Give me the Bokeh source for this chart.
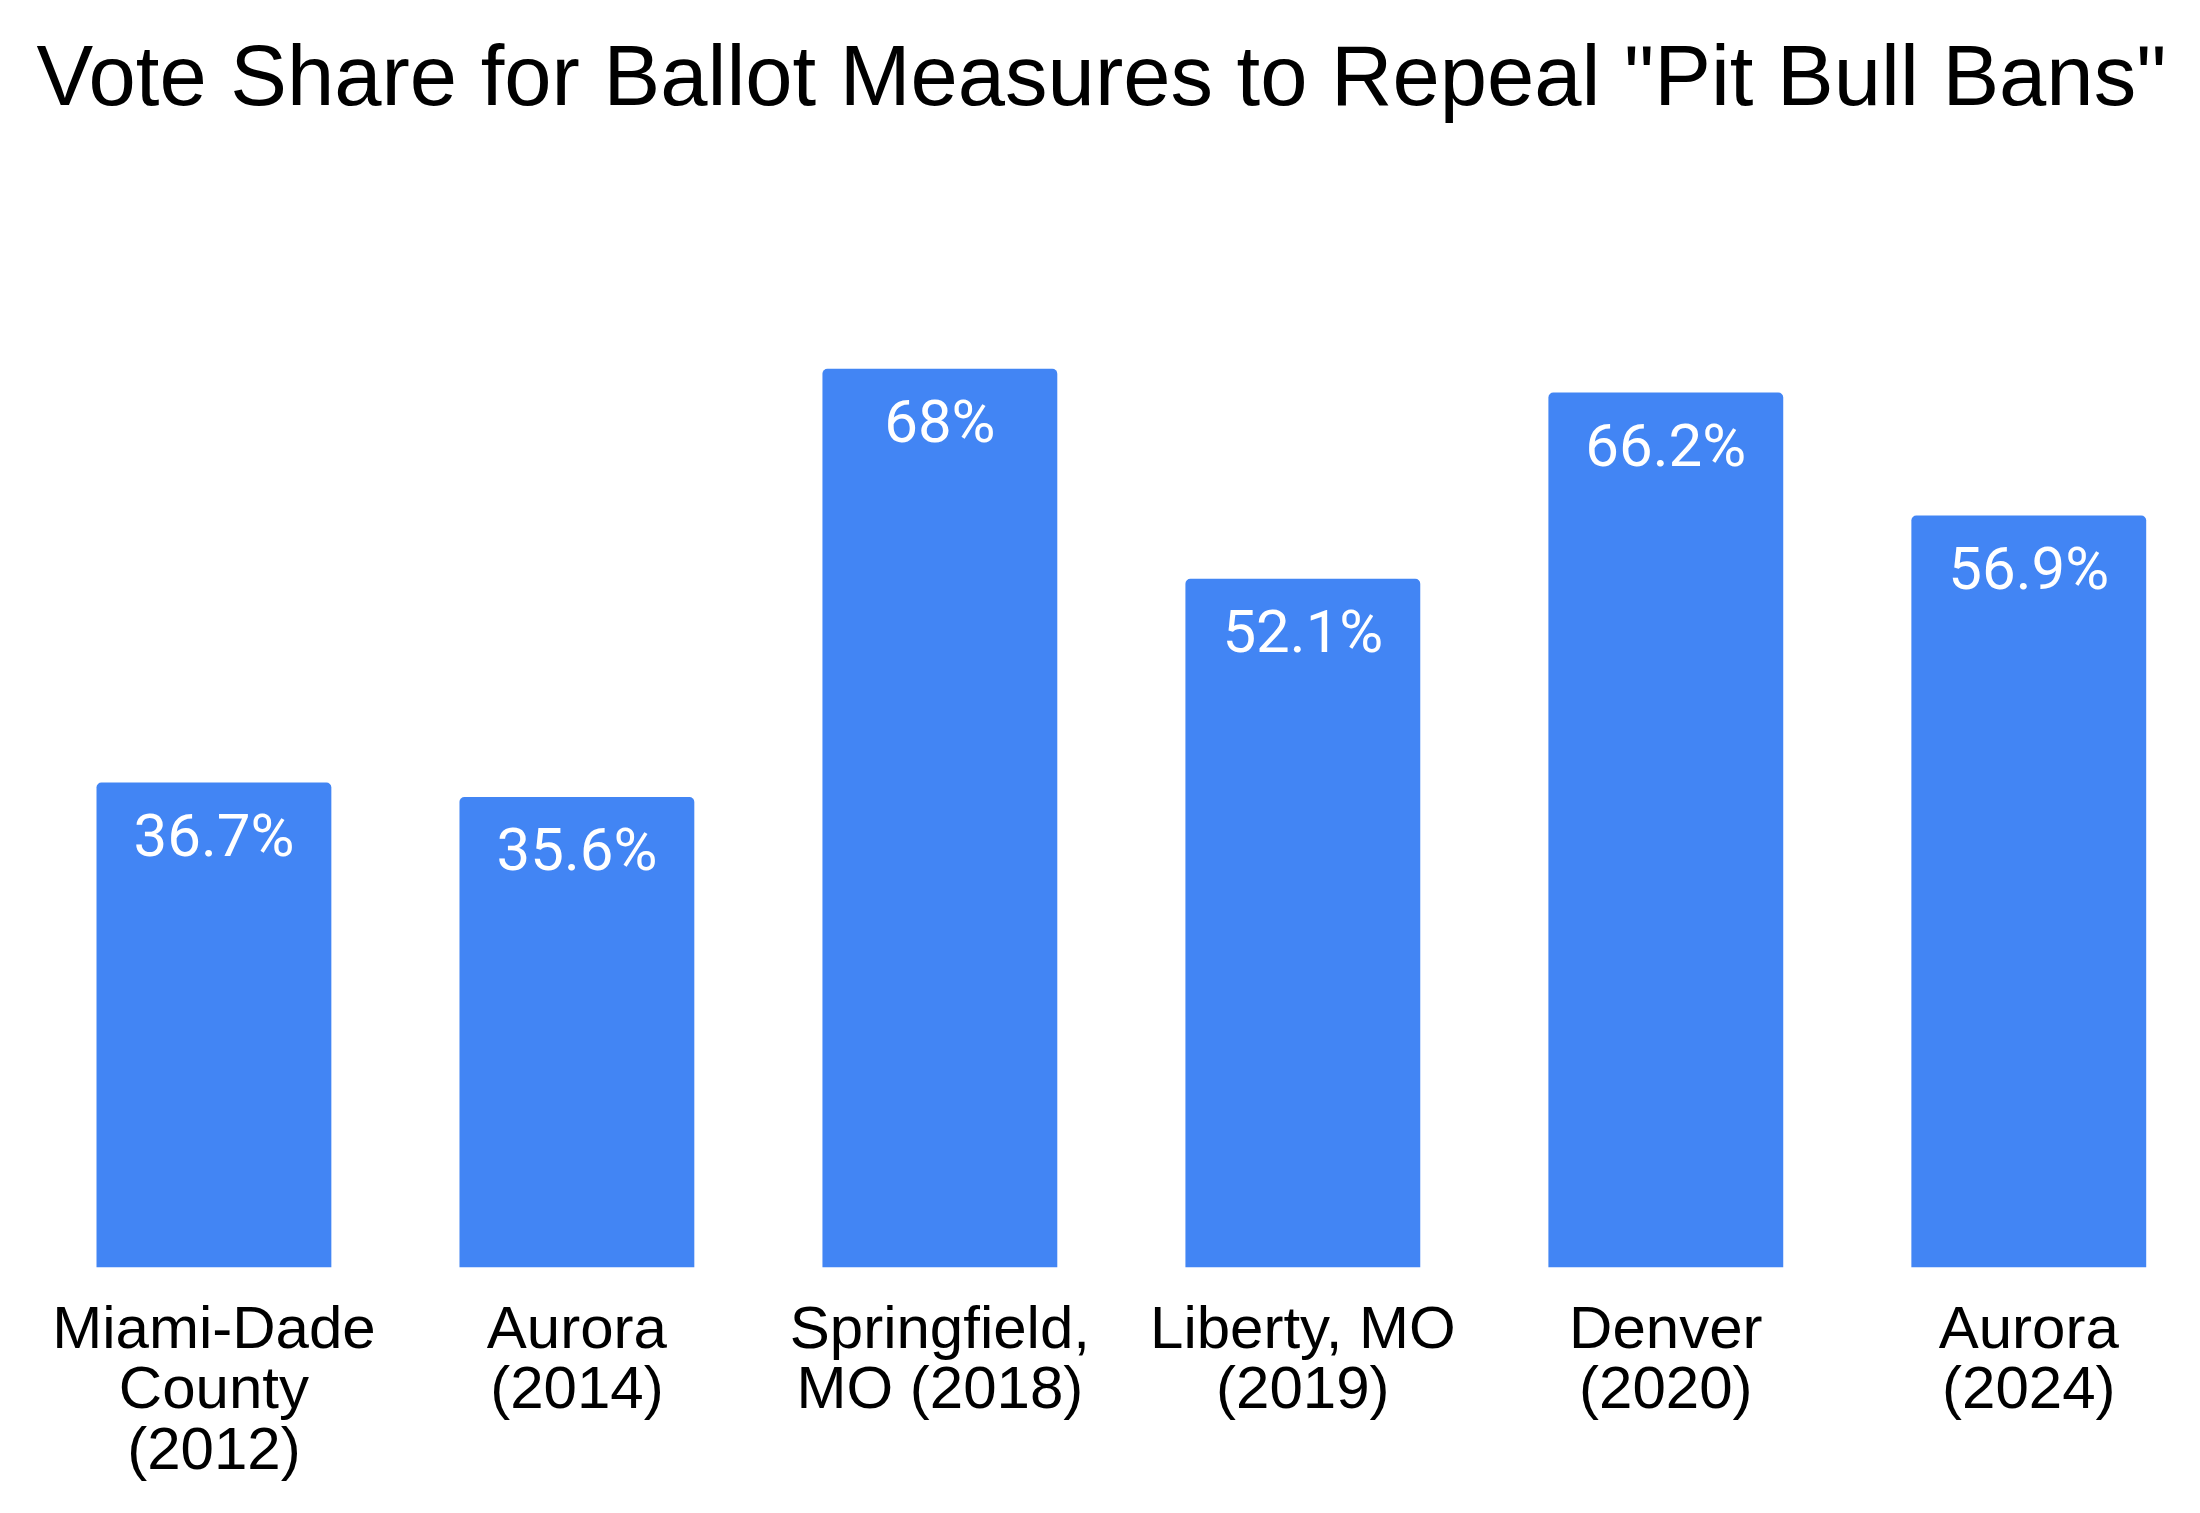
from bokeh.plotting import figure
from bokeh.models import ColumnDataSource, Range1d, FixedTicker, Title
from bokeh.core.properties import value
from bokeh.embed import file_html
from bokeh.resources import INLINE

categories = ["Miami-Dade\nCounty\n(2012)", "Aurora\n(2014)", "Springfield,\nMO (2018)",
              "Liberty, MO\n(2019)", "Denver\n(2020)", "Aurora\n(2024)"]
shares = [36.7, 35.6, 68, 52.1, 66.2, 56.9]
share_labels = [f"{v:g}%" for v in shares]

xs = list(range(len(categories)))
src = ColumnDataSource(data=dict(x=xs, share=shares, label=share_labels))

p = figure(width=2184, height=1485, output_backend="svg", toolbar_location=None,
           x_range=Range1d(-0.588, 5.429), y_range=Range1d(0, 86.4),
           y_axis_location=None, min_border_left=0, min_border_right=0,
           min_border_top=125, min_border_bottom=0)
p.title = Title(text='Vote Share for Ballot Measures to Repeal "Pit Bull Bans"',
                text_font="Liberation Sans", text_font_size="85px",
                text_font_style="normal", text_color="#000000", align="left",
                offset=36, standoff=6)
p.outline_line_color = None
p.grid.visible = False
p.background_fill_color = "white"

p.vbar(x="x", top="share", bottom=0, width=0.647, source=src,
       fill_color="#4285F4", line_color=None, border_radius=(5, 5, 0, 0))

p.text(x="x", y="share", text="label", source=src, text_align="center",
       text_baseline="alphabetic", y_offset=53, text_color="white",
       text_font=value("Roboto"), text_font_size="60px")

ax = p.xaxis[0]
ax.ticker = FixedTicker(ticks=xs)
ax.major_label_overrides = {i: c for i, c in zip(xs, categories)}
ax.axis_line_color = None
ax.major_tick_line_color = None
ax.minor_tick_line_color = None
ax.major_tick_out = 0
ax.major_tick_in = 0
ax.major_label_standoff = 26
ax.major_label_text_font = "Liberation Sans"
ax.major_label_text_font_size = "60px"
ax.major_label_text_color = "#000000"
ax.major_label_text_line_height = 0.91

open("out.html", "w").write(file_html(p, INLINE))
